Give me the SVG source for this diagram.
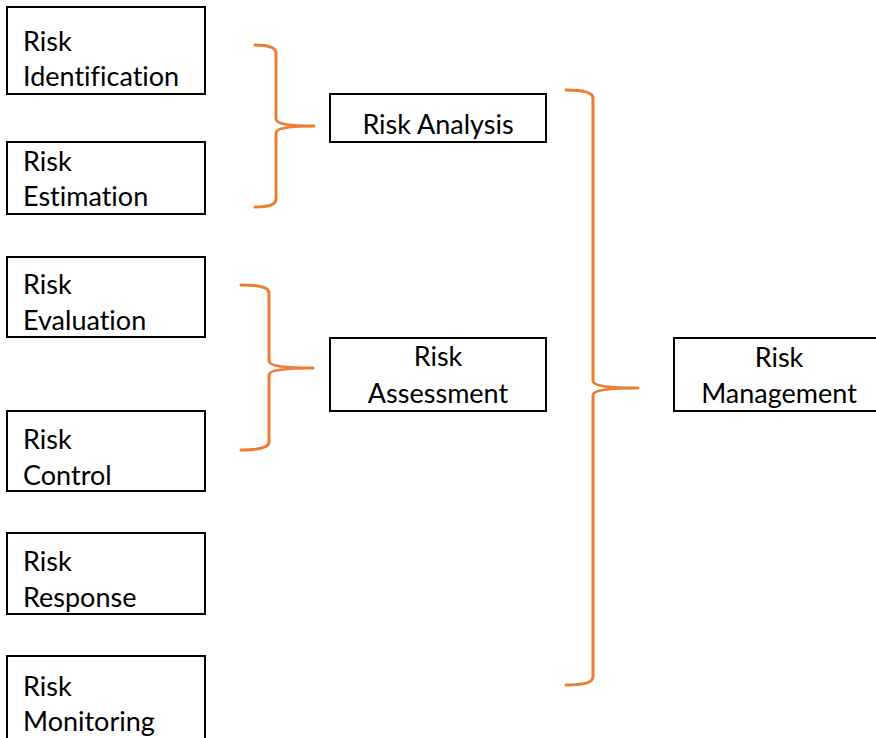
<svg xmlns="http://www.w3.org/2000/svg" width="876" height="738" viewBox="0 0 876 738">
<style>
.box{fill:#fff;stroke:#000;stroke-width:2}
.t{font-family:Lato,"Liberation Sans",sans-serif;font-size:27px;fill:#000;font-variant-ligatures:none}
.c{text-anchor:middle}
.br{fill:none;stroke:#ED7D31;stroke-width:3;stroke-linecap:round;stroke-linejoin:round}
</style>
<rect width="876" height="738" fill="#fff"/>
<g id="connectors">
<path class="br" d="M255 45 Q276 45 276 53 V119 Q276 126 314 126 Q276 126 276 133 V199 Q276 207 255 207"/>
<path class="br" d="M241 285 Q269 285 269 293 V361 Q269 368 313 368 Q269 368 269 375 V442 Q269 450 241 450"/>
<path class="br" d="M566 90 Q593 90 593 98 V381 Q593 388 638 388 Q593 388 593 395 V677 Q593 685 566 685"/>
</g>
<g id="n-identification"><rect class="box" x="7" y="7" width="198" height="87"/><text class="t" x="23" y="51">Risk</text><text class="t" x="23" y="86">Identification</text></g>
<g id="n-estimation"><rect class="box" x="7" y="142" width="198" height="72"/><text class="t" x="23" y="171">Risk</text><text class="t" x="23" y="206">Estimation</text></g>
<g id="n-evaluation"><rect class="box" x="7" y="257" width="198" height="80"/><text class="t" x="23" y="294">Risk</text><text class="t" x="23" y="330">Evaluation</text></g>
<g id="n-control"><rect class="box" x="7" y="411" width="198" height="80"/><text class="t" x="23" y="449">Risk</text><text class="t" x="23" y="485">Control</text></g>
<g id="n-response"><rect class="box" x="7" y="533" width="198" height="81"/><text class="t" x="23" y="571">Risk</text><text class="t" x="23" y="607">Response</text></g>
<g id="n-monitoring"><rect class="box" x="7" y="656" width="198" height="90"/><text class="t" x="23" y="696">Risk</text><text class="t" x="23" y="731">Monitoring</text></g>
<g id="n-analysis"><rect class="box" x="330" y="94" width="216" height="48"/><text class="t c" x="438" y="134">Risk Analysis</text></g>
<g id="n-assessment"><rect class="box" x="330" y="338" width="216" height="73"/><text class="t c" x="438" y="366">Risk</text><text class="t c" x="438" y="403">Assessment</text></g>
<g id="n-management"><rect class="box" x="674" y="338" width="210" height="73"/><text class="t c" x="779" y="367">Risk</text><text class="t c" x="779" y="403">Management</text></g>
</svg>
